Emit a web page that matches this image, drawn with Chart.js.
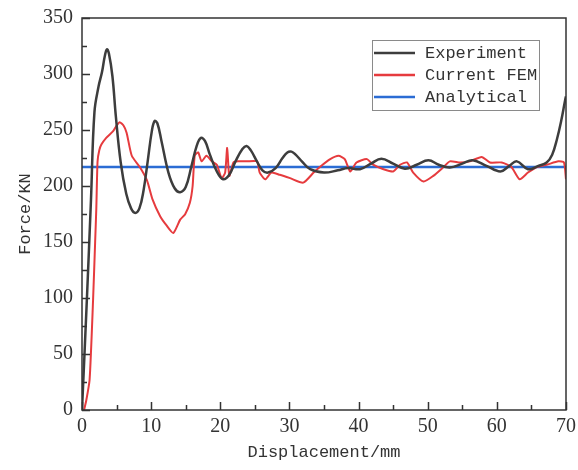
<!DOCTYPE html>
<html>
<head>
<meta charset="utf-8">
<script src="https://cdn.jsdelivr.net/npm/chart.js@4"></script>
<style>
  html, body { margin: 0; padding: 0; background: #fff; }
  #wrap { width: 578px; height: 470px; }
</style>
</head>
<body>
<div id="wrap"><canvas id="chart" width="578" height="470"></canvas></div>
<script>
// Experiment curve (displacement mm -> force kN)
const expDisp = [0, 0.7, 1.3, 1.8, 2.4, 2.9, 3.3, 3.6, 3.9, 4.4, 4.9, 5.6, 6.4, 7.1, 7.7, 8.3, 8.9, 9.5, 10.1,
  10.5, 10.9, 11.5, 12.5, 13.4, 14.2, 15.0, 15.8, 16.6, 17.2, 17.8, 18.5, 19.5, 20.4, 21.3, 22.2, 23.2, 23.8,
  24.4, 25.3, 26.1, 26.9, 28.0, 29.0, 29.7, 30.3, 30.9, 31.8, 33, 35, 37, 38.5, 40.2, 41.8, 43.3, 45,
  46.7, 48.4, 50.1, 51.6, 53.2, 55, 56.5, 58.5, 60.5, 61.8, 62.9, 64.5, 66, 67.2, 68, 68.7, 69.3, 69.9, 70];
const expForce = [0, 98, 188, 266, 289, 302, 316, 322, 318, 298, 262, 221, 193, 180, 176, 180, 196, 222, 249,
  258, 256, 240, 212, 198, 194.5, 199, 217, 236, 243, 240, 228, 213, 206, 210, 222, 233, 235.7,
  232, 222, 214, 212, 216, 225, 230, 230.7, 228, 222, 215, 212, 214, 216, 215, 220, 224.4, 220,
  215.5, 219, 223, 219, 216.6, 220, 223, 218, 213, 218, 222, 215, 218, 221, 228, 242, 258, 277.5, 280];

// Current FEM curve
const femDisp = [0.3, 0.6, 1.1, 1.6, 1.9, 2.07, 2.25, 2.5, 2.8, 3.5, 4.5, 5.0, 5.45, 6.0, 6.45, 7.2, 8.4,
  9.4, 10.2, 11.3, 12.2, 13.2, 14.2, 14.9, 15.6, 16, 16.3, 16.8, 17.3, 18, 18.8, 19.5, 20.2, 20.7, 21, 21.3,
  21.9, 22.6, 23.8, 25.3, 25.7, 26.5, 27.4, 28.6, 30.1, 32, 33.5, 34.4, 35.9, 37.1, 38, 38.8, 39.7, 41.2,
  42.1, 43.6, 45, 46, 47, 47.9, 49.4, 50.8, 52.3, 53.2, 54.7, 56.1, 57.8, 59, 60.7, 62.1, 63.3, 64.5, 65.8,
  67.2, 68.9, 69.7, 70];
const femForce = [0, 8, 27, 98, 150, 180, 222, 232, 237, 243, 249, 254, 257, 254, 247.6, 227, 216.5,
  205, 188, 173, 165, 158, 170, 174.6, 185, 200, 227, 230, 222, 227, 222, 219, 207, 212, 234, 209,
  221, 222, 222, 222, 212, 206, 212, 210, 207, 203, 212, 217, 224, 227, 224, 213, 221, 224,
  219, 215, 213, 219, 221, 212, 204, 209, 217, 222, 221, 222, 226, 221, 221, 217, 206, 212, 217,
  219, 222, 221, 206];

// Analytical solution
const anaDisp = [0, 70];
const anaForce = [217, 217];

const xTicks = [0, 10, 20, 30, 40, 50, 60, 70];
const yTicks = [0, 50, 100, 150, 200, 250, 300, 350];

const seriesNames = ['Experiment', 'Current FEM', 'Analytical'];
const seriesColors = ['#3d3d3d', '#e63b3e', '#2b6cd4'];

const pairs = (xs, ys) => xs.map((x, i) => ({ x, y: ys[i] }));

const monoFont = '"Liberation Mono", "DejaVu Sans Mono", monospace';
const serifFont = '"Liberation Serif", "DejaVu Serif", serif';

// frame, inward ticks and legend box
const framePlugin = {
  id: 'frame',
  afterDraw(chart) {
    const { ctx, chartArea: a, scales: { x, y } } = chart;
    ctx.save();
    ctx.strokeStyle = '#333';
    ctx.lineWidth = 1.5;
    ctx.strokeRect(a.left, a.top, a.right - a.left, a.bottom - a.top);

    ctx.beginPath();
    for (let v = 0; v <= 70; v += 5) {
      const px = Math.round(x.getPixelForValue(v)) + 0.5;
      const len = v % 10 === 0 ? 8 : 5;
      ctx.moveTo(px, a.bottom);
      ctx.lineTo(px, a.bottom - len);
    }
    for (let v = 0; v <= 350; v += 25) {
      const py = Math.round(y.getPixelForValue(v)) + 0.5;
      const len = v % 50 === 0 ? 8 : 5;
      ctx.moveTo(a.left, py);
      ctx.lineTo(a.left + len, py);
    }
    ctx.stroke();

    // legend
    const lx = 372, ly = 40, lw = 167, lh = 70;
    ctx.fillStyle = '#fff';
    ctx.fillRect(lx, ly, lw, lh);
    ctx.strokeStyle = '#8a8a8a';
    ctx.lineWidth = 1;
    ctx.strokeRect(lx + 0.5, ly + 0.5, lw, lh);
    ctx.font = '17px ' + monoFont;
    ctx.textBaseline = 'middle';
    seriesNames.forEach((name, i) => {
      const cy = 53 + i * 22;
      ctx.strokeStyle = seriesColors[i];
      ctx.lineWidth = 2.5;
      ctx.beginPath();
      ctx.moveTo(374, cy);
      ctx.lineTo(415, cy);
      ctx.stroke();
      ctx.fillStyle = '#333';
      ctx.fillText(name, 425, cy);
    });
    ctx.restore();
  }
};

new Chart(document.getElementById('chart'), {
  type: 'line',
  data: {
    datasets: [
      {
        label: seriesNames[0],
        data: pairs(expDisp, expForce),
        borderColor: seriesColors[0],
        borderWidth: 2.5,
        pointRadius: 0,
        tension: 0.4
      },
      {
        label: seriesNames[1],
        data: pairs(femDisp, femForce),
        borderColor: seriesColors[1],
        borderWidth: 2,
        pointRadius: 0,
        tension: 0.2
      },
      {
        label: seriesNames[2],
        data: pairs(anaDisp, anaForce),
        borderColor: seriesColors[2],
        borderWidth: 2.5,
        pointRadius: 0
      }
    ]
  },
  options: {
    responsive: false,
    animation: false,
    layout: { padding: { top: 18, right: 12, left: 0, bottom: 0 } },
    plugins: {
      legend: { display: false },
      tooltip: { enabled: false }
    },
    scales: {
      x: {
        type: 'linear',
        min: 0,
        max: 70,
        afterBuildTicks: (s) => { s.ticks = xTicks.map(v => ({ value: v })); },
        afterFit: (s) => { s.height = 60; s.paddingLeft = 0; s.paddingRight = 0; },
        grid: { display: false, drawTicks: false },
        border: { display: false },
        ticks: { padding: 5, color: '#333', font: { family: serifFont, size: 20 }, maxRotation: 0 },
        title: {
          display: true,
          text: 'Displacement/mm',
          color: '#333',
          font: { family: monoFont, size: 17 },
          padding: { top: 0, bottom: 7 }
        }
      },
      y: {
        min: 0,
        max: 350,
        afterBuildTicks: (s) => { s.ticks = yTicks.map(v => ({ value: v })); },
        afterFit: (s) => { s.width = 82; s.paddingTop = 0; s.paddingBottom = 0; },
        grid: { display: false, drawTicks: false },
        border: { display: false },
        ticks: { padding: 9, color: '#333', font: { family: serifFont, size: 20 } },
        title: {
          display: true,
          text: 'Force/KN',
          color: '#333',
          font: { family: monoFont, size: 17 },
          padding: { top: 15, bottom: 0 }
        }
      }
    }
  },
  plugins: [framePlugin]
});
</script>
</body>
</html>
